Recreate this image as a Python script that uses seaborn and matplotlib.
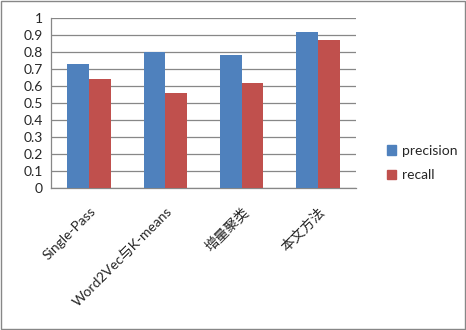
import matplotlib
matplotlib.use("Agg")
import matplotlib.pyplot as plt
import matplotlib.patches as mpatches
import pandas as pd
import seaborn as sb

methods = ["Single-Pass", "Word2Vec与K-means", "增量聚类", "本文方法"]
precision = [0.73, 0.80, 0.78, 0.92]
recall = [0.64, 0.56, 0.62, 0.87]
series = ["precision", "recall"]
colors = ["#4F81BD", "#C0504D"]

df = pd.DataFrame({
    "method": methods * 2,
    "score": precision + recall,
    "metric": [series[0]] * len(methods) + [series[1]] * len(methods),
})

sb.set_style("white")
plt.rcParams["font.family"] = ["Lato", "Noto Sans CJK SC", "DejaVu Sans"]

fig = plt.figure(figsize=(4.66, 3.30), dpi=100)
ax = fig.add_axes([51 / 466, 1 - 188 / 330, 305 / 466, 170 / 330])

sb.barplot(data=df, x="method", y="score", hue="metric", palette=colors,
           width=0.57, gap=0, saturation=1, ax=ax, legend=False,
           edgecolor="none", zorder=3)

ax.set_ylim(0, 1)
ax.set_xlim(-0.5, len(methods) - 0.5)
ax.set_yticks([i / 10 for i in range(11)])
ax.set_yticklabels(["0", "0.1", "0.2", "0.3", "0.4", "0.5", "0.6", "0.7", "0.8", "0.9", "1"])
ax.yaxis.grid(True, color="#878787", linewidth=0.9, zorder=0)
ax.set_axisbelow(True)
ax.set_xlabel("")
ax.set_ylabel("")

ax.set_xticks(range(len(methods)))
ax.set_xticklabels(methods, rotation=45, ha="right", rotation_mode="anchor")
ax.tick_params(axis="x", which="major", length=0, pad=12, labelsize=10)
ax.set_xticks([i - 0.5 for i in range(len(methods) + 1)], minor=True)
ax.tick_params(axis="x", which="minor", length=4, width=0.9, color="#878787", direction="out")
ax.tick_params(axis="y", length=3, width=0.9, color="#878787", labelsize=10, pad=3)

for side in ["top", "right"]:
    ax.spines[side].set_visible(False)
for side in ["left", "bottom"]:
    ax.spines[side].set_color("#878787")
    ax.spines[side].set_linewidth(0.9)

handles = [mpatches.Patch(color=c, label=s) for c, s in zip(colors, series)]
fig.legend(handles=handles, loc="center left", bbox_to_anchor=(374 / 466, 1 - 163 / 330),
           frameon=False, fontsize=10, handlelength=0.7, handleheight=0.7,
           handletextpad=0.4, labelspacing=0.9)

fig.patches.append(mpatches.Rectangle((0.002, 0.003), 0.995, 0.994, transform=fig.transFigure,
                                      fill=False, edgecolor="#878787", linewidth=1))

fig.savefig("out.png", dpi=100)
